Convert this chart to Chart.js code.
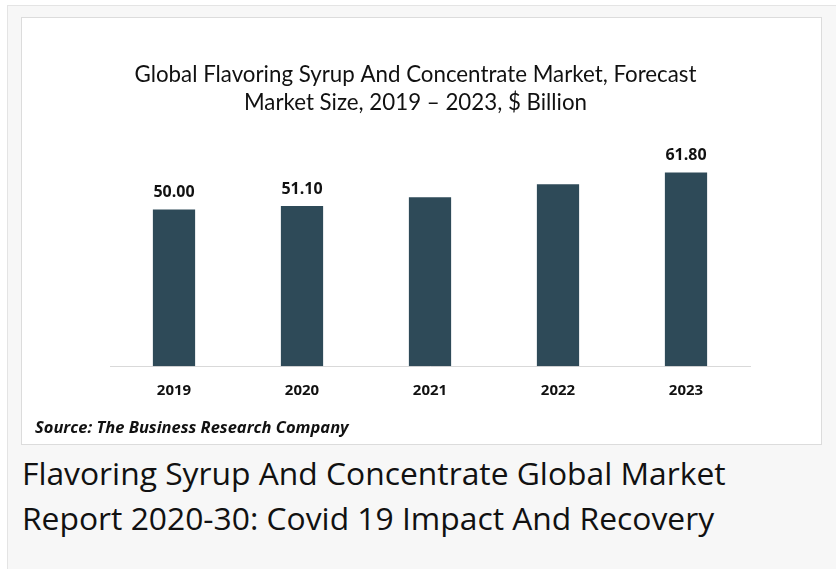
<!DOCTYPE html>
<html>
<head>
<meta charset="utf-8">
<script src="https://cdn.jsdelivr.net/npm/chart.js@4.4.1/dist/chart.umd.min.js"></script>
<style>
  html, body { margin: 0; padding: 0; background: #ffffff; }
  .outer {
    position: absolute; left: 7px; top: 5px; width: 840px; height: 580px;
    background: #f7f7f7; border: 1px solid #e4e4e4; box-sizing: border-box;
  }
  .box {
    position: absolute; left: 21px; top: 17px; width: 801px; height: 428px;
    background: #fff; border: 1px solid #dcdcdc; box-sizing: border-box;
  }
  .caption {
    position: absolute; left: 22px; top: 450px;
    font-family: "Open Sans", sans-serif; font-size: 31.8px; line-height: 45px;
    color: #111; white-space: nowrap;
  }
</style>
</head>
<body>
<div class="outer"></div>
<div class="box"><canvas id="grafico" width="799" height="426"></canvas></div>
<div class="caption">Flavoring Syrup And Concentrate Global Market<br>Report 2020-30: Covid 19 Impact And Recovery</div>
<script>
const anios = ['2019', '2020', '2021', '2022', '2023']
const valores = [50.0, 51.1, 53.9, 58.0, 61.8]
// solo algunas barras llevan etiqueta en el original
const etiquetas = ['50.00', '51.10', '', '', '61.80']
const titulo = ['Global Flavoring Syrup And Concentrate Market, Forecast', 'Market Size, 2019 \u2013 2023, $ Billion']
const fuente = 'Source: The Business Research Company'

// plugin sencillo para poner los valores encima de las barras
const etiquetasBarras = {
    id: 'etiquetasBarras',
    afterDatasetsDraw(chart) {
        const ctx = chart.ctx
        const meta = chart.getDatasetMeta(0)
        ctx.save()
        ctx.font = 'bold 16px "Open Sans", sans-serif'
        ctx.fillStyle = '#111'
        ctx.textAlign = 'center'
        ctx.textBaseline = 'middle'
        meta.data.forEach((bar, i) => {
            if (etiquetas[i]) ctx.fillText(etiquetas[i], bar.x, bar.y - 17)
        })
        ctx.restore()
    }
}

const ctx = document.getElementById('grafico').getContext('2d')
const grafico = new Chart(ctx, {
    type: 'bar',
    data: {
        labels: anios,
        datasets: [{
            data: valores,
            backgroundColor: '#2e4a58',
            barPercentage: 0.33,
            categoryPercentage: 1.0
        }]
    },
    options: {
        responsive: false,
        animation: false,
        layout: { padding: { left: 13, right: 25, top: 0, bottom: 6 } },
        plugins: {
            legend: { display: false },
            tooltip: { enabled: false },
            title: {
                display: true,
                text: titulo,
                color: '#111',
                font: { family: 'Lato', size: 22.3, weight: 'normal', lineHeight: 1.25 },
                padding: { top: 43, bottom: 30 }
            },
            subtitle: {
                display: true,
                text: fuente,
                position: 'bottom',
                align: 'start',
                color: '#111',
                font: { family: 'Open Sans', size: 16.5, weight: 'bold', style: 'italic' },
                padding: { top: 10, bottom: 0 }
            }
        },
        scales: {
            x: {
                grid: { display: false },
                border: { display: true, color: '#d9d9d9', width: 1 },
                ticks: { color: '#111', padding: 8, font: { family: 'Open Sans', size: 15, weight: 'bold' } }
            },
            y: {
                display: true,
                min: 0,
                max: 70,
                grid: { display: false },
                border: { display: false },
                ticks: { display: false },
                afterFit(scale) { scale.width = 75 }
            },
            // eje vacio a la derecha solo para dejar el hueco
            yDer: {
                position: 'right',
                display: true,
                min: 0,
                max: 70,
                grid: { display: false },
                border: { display: false },
                ticks: { display: false },
                afterFit(scale) { scale.width = 46 }
            }
        }
    },
    plugins: [etiquetasBarras]
})
</script>
</body>
</html>
